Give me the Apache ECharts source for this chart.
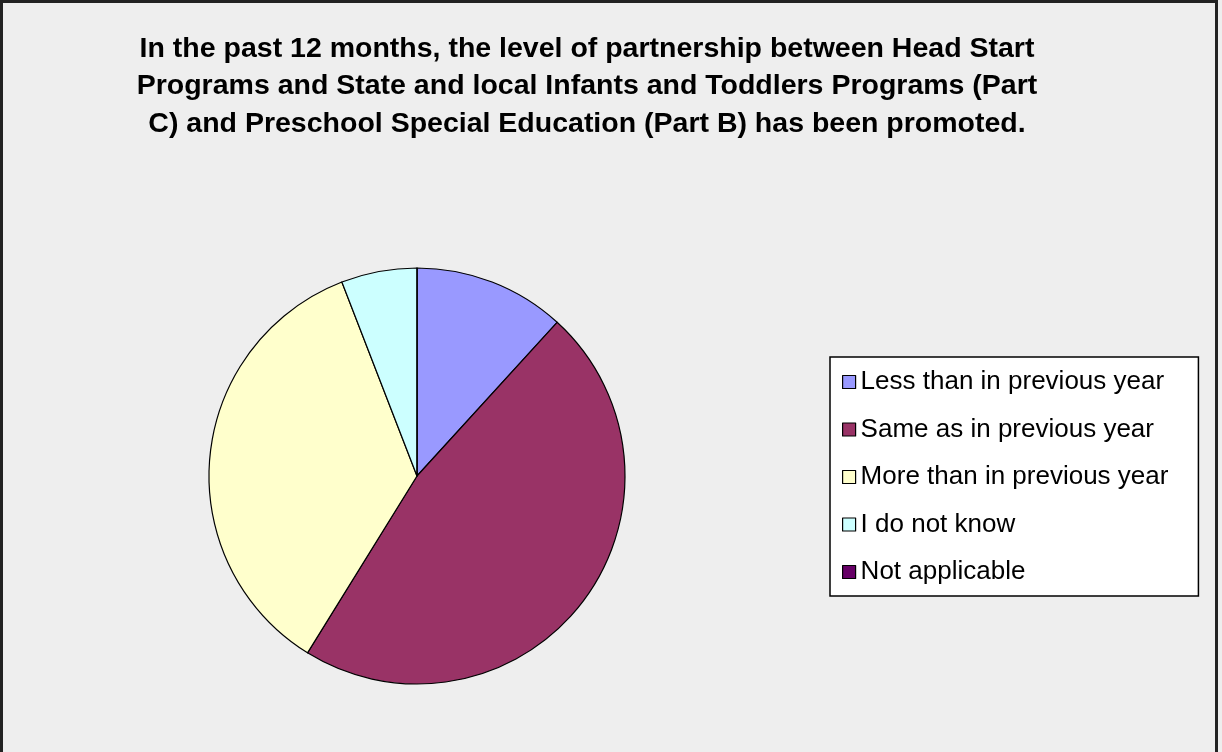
<!DOCTYPE html>
<html>
<head>
<meta charset="utf-8">
<script src="https://cdn.jsdelivr.net/npm/echarts@6/dist/echarts.min.js"></script>
<style>
  html, body { margin: 0; padding: 0; background: #eeeeee; }
  #main { width: 1222px; height: 752px; }
</style>
</head>
<body>
<div id="main"></div>
<script>
const chartDom = document.getElementById("main");
const myChart = echarts.init(chartDom);

const categories = [
    "Less than in previous year",
    "Same as in previous year",
    "More than in previous year",
    "I do not know",
    "Not applicable",
];
const counts = [2, 8, 6, 1, 0];
const colors = ["#9999ff", "#993366", "#ffffcc", "#ccffff", "#660066"];

const titleText =
    "In the past 12 months, the level of partnership between Head Start\n" +
    "Programs and State and local Infants and Toddlers Programs (Part\n" +
    "C) and Preschool Special Education (Part B) has been promoted.";

const option = {
    backgroundColor: "#eeeeee",
    color: colors,
    animation: false,
    title: {
        text: titleText,
        left: 582,
        top: 25,
        textAlign: "center",
        textStyle: {
            fontFamily: "Liberation Sans, Arial",
            fontSize: 28.5,
            fontWeight: "bold",
            lineHeight: 37.5,
            color: "#000",
        },
    },
    graphic: [
        {
            type: "rect",
            shape: { x: 1.5, y: 1.5, width: 1215, height: 760 },
            style: { fill: null, stroke: "#222", lineWidth: 3 },
            silent: true,
        },
    ],
    legend: {
        orient: "vertical",
        left: 830,
        top: 357,
        padding: [12, 30, 11, 12],
        itemGap: 21.5,
        itemWidth: 13,
        itemHeight: 13,
        icon: "rect",
        backgroundColor: "#fff",
        borderColor: "#000",
        borderWidth: 1.5,
        textStyle: {
            fontFamily: "Liberation Sans, Arial",
            fontSize: 26,
            color: "#000",
        },
        itemStyle: { borderColor: "#000", borderWidth: 1.2 },
        data: categories,
    },
    series: [
        {
            type: "pie",
            center: [417, 476],
            radius: 208,
            startAngle: 90,
            clockwise: true,
            label: { show: false },
            labelLine: { show: false },
            emphasis: { disabled: true },
            itemStyle: { borderColor: "#000", borderWidth: 1.2 },
            data: categories.map((name, i) => ({ name: name, value: counts[i] })),
        },
    ],
};

myChart.setOption(option);
</script>
</body>
</html>
